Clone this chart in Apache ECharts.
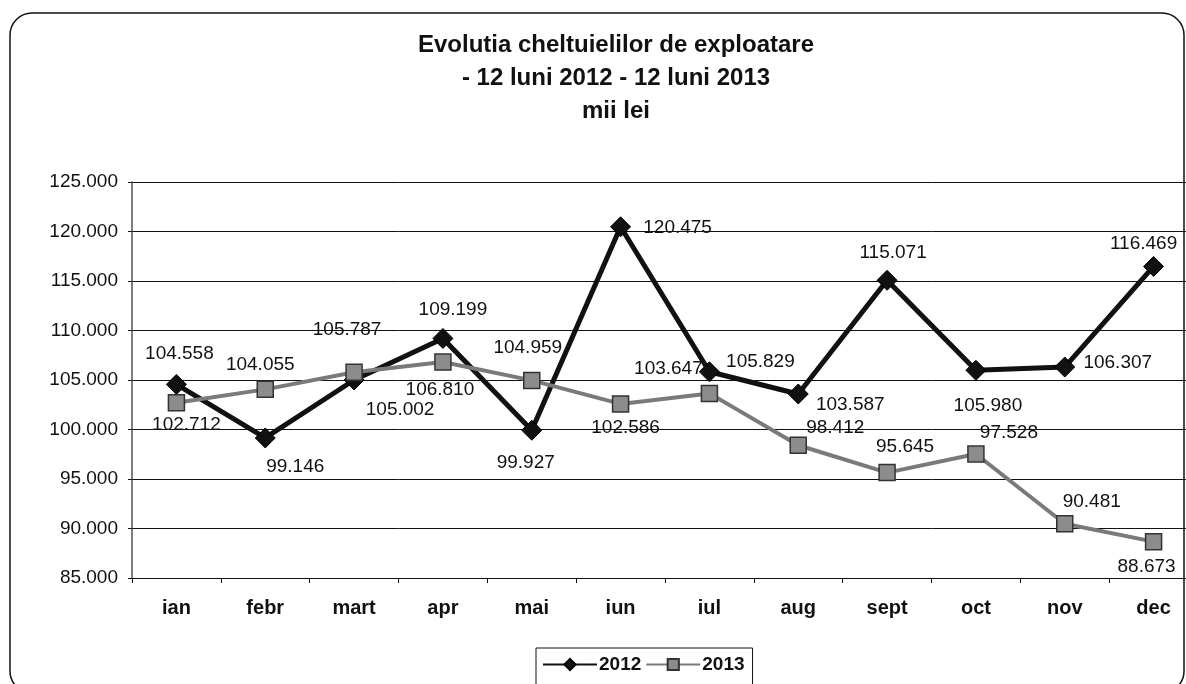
<!DOCTYPE html>
<html>
<head>
<meta charset="utf-8">
<title>Evolutia cheltuielilor de exploatare</title>
<script src="https://cdn.jsdelivr.net/npm/echarts@6/dist/echarts.min.js"></script>
<style>
  html, body { margin: 0; padding: 0; background: #fff; overflow: hidden; }
  /* the scan cuts the plot on the right, so the canvas is a bit wider than the window */
  #chart { width: 1200px; height: 684px; }
</style>
</head>
<body>
<div id="chart"></div>
<script>
// data (lei thousands, '.' = thousands separator)
const months = ['ian', 'febr', 'mart', 'apr', 'mai', 'iun', 'iul', 'aug', 'sept', 'oct', 'nov', 'dec']
const values2012 = [104558, 99146, 105002, 109199, 99927, 120475, 105829, 103587, 115071, 105980, 106307, 116469]
const values2013 = [102712, 104055, 105787, 106810, 104959, 102586, 103647, 98412, 95645, 97528, 90481, 88673]
const yMin = 85000
const yMax = 125000
const yStep = 5000

// where each value label sits relative to its marker (as in the scan)
const labelOffsets2012 = [[3, -31], [30, 29], [46, 30], [10, -29], [-6, 33], [57, 1], [51, -10], [52, 11], [6, -28], [12, 35], [53, -4], [-10, -23]]
const labelOffsets2013 = [[10, 22], [-5, -25], [-7, -42], [-3, 28], [-4, -33], [5, 24], [-41, -25], [37, -17], [18, -26], [33, -21], [27, -22], [-7, 25]]

const fontFamily = '"Liberation Sans", Arial, sans-serif'

function fmt(n) {
  return String(n).replace(/\B(?=(\d{3})+(?!\d))/g, '.')
}

function withLabels(values, offsets) {
  return values.map((v, i) => ({ value: v, label: { offset: offsets[i] } }))
}

const chart = echarts.init(document.getElementById('chart'), null, { renderer: 'canvas' })

chart.setOption({
  animation: false,
  backgroundColor: '#fff',
  textStyle: { fontFamily: fontFamily },
  graphic: [
    {
      type: 'rect',
      z: -10,
      shape: { x: 10, y: 13, width: 1174, height: 680, r: 22 },
      style: { fill: 'none', stroke: '#111', lineWidth: 1.5 }
    },
    {
      type: 'text',
      x: 616,
      y: 78,
      style: {
        text: 'Evolutia cheltuielilor de exploatare\n- 12 luni 2012 - 12 luni 2013\nmii lei',
        align: 'center',
        verticalAlign: 'middle',
        font: 'bold 24px ' + fontFamily,
        lineHeight: 33,
        fill: '#111'
      }
    }
  ],
  grid: {
    left: 132,
    right: 2,
    top: 182,
    bottom: 106
  },
  legend: {
    data: ['2012', '2013'],
    left: 536,
    top: 648,
    orient: 'horizontal',
    itemWidth: 54,
    itemHeight: 14,
    itemGap: 4,
    padding: [7, 8, 14, 6],
    borderColor: '#111',
    borderWidth: 1,
    textStyle: { fontSize: 19, fontWeight: 'bold', color: '#111', padding: [0, 0, 0, -3] }
  },
  xAxis: {
    type: 'category',
    data: months,
    boundaryGap: true,
    axisLine: { lineStyle: { color: '#111', width: 1 } },
    axisTick: { show: true, length: 5, lineStyle: { color: '#111' } },
    axisLabel: { fontSize: 20, fontWeight: 'bold', color: '#111', margin: 20 },
    splitLine: { show: false }
  },
  yAxis: {
    type: 'value',
    min: yMin,
    max: yMax,
    interval: yStep,
    axisLine: { show: true, lineStyle: { color: '#555', width: 1.5 } },
    axisTick: { show: true, length: 4, lineStyle: { color: '#111' } },
    axisLabel: { fontSize: 19, color: '#111', margin: 14, formatter: fmt },
    splitLine: { show: true, lineStyle: { color: '#111', width: 1 } }
  },
  series: [
    {
      name: '2012',
      type: 'line',
      data: withLabels(values2012, labelOffsets2012),
      symbol: 'diamond',
      symbolSize: 20,
      lineStyle: { color: '#111', width: 5 },
      itemStyle: { color: '#111', borderColor: '#000', borderWidth: 1 },
      label: {
        show: true,
        position: 'inside',
        fontSize: 19,
        color: '#111',
        formatter: p => fmt(p.value)
      }
    },
    {
      name: '2013',
      type: 'line',
      data: withLabels(values2013, labelOffsets2013),
      symbol: 'rect',
      symbolSize: 16,
      lineStyle: { color: '#7a7a7a', width: 4 },
      itemStyle: { color: '#8c8c8c', borderColor: '#333', borderWidth: 1.5 },
      label: {
        show: true,
        position: 'inside',
        fontSize: 19,
        color: '#111',
        formatter: p => fmt(p.value)
      }
    }
  ]
})
</script>
</body>
</html>
